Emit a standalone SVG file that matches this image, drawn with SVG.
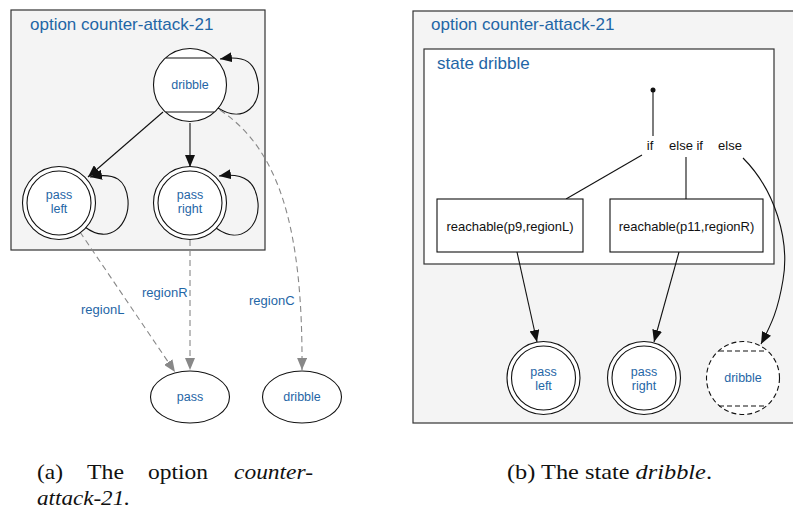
<svg xmlns="http://www.w3.org/2000/svg" width="793" height="513" viewBox="0 0 793 513">
<style>
.panel{fill:#f4f4f4;stroke:#333;stroke-width:1.2}
.inner{fill:#fff;stroke:#333;stroke-width:1.2}
.node{fill:#fff;stroke:#111;stroke-width:1.1}
.dnode{fill:#fff;stroke:#111;stroke-width:1.1;stroke-dasharray:5,3}
.chord{fill:none;stroke:#111;stroke-width:1.1}
.dchord{fill:none;stroke:#111;stroke-width:1.1;stroke-dasharray:5,3}
.title{font-family:"Liberation Sans",Arial,sans-serif;font-size:17px;fill:#1f66a6}
.nt{font-family:"Liberation Sans",Arial,sans-serif;font-size:12.5px;fill:#1f66a6;text-anchor:middle}
.lbl{font-family:"Liberation Sans",Arial,sans-serif;font-size:13px;fill:#1f66a6}
.bt{font-family:"Liberation Sans",Arial,sans-serif;font-size:13px;fill:#111;text-anchor:middle}
.cap{font-family:"Liberation Serif","Times New Roman",serif;font-size:22px;fill:#111}
.e{fill:none;stroke:#111;stroke-width:1.1}
.g{fill:none;stroke:#888;stroke-width:1.1;stroke-dasharray:6,4}
</style>
<defs>
<marker id="ah" markerUnits="userSpaceOnUse" markerWidth="12" markerHeight="10" refX="12" refY="5" orient="auto"><path d="M0,0 L12,5 L0,10 z" fill="#111"/></marker>
<marker id="gh" markerUnits="userSpaceOnUse" markerWidth="12" markerHeight="10" refX="12" refY="5" orient="auto"><path d="M0,0 L12,5 L0,10 z" fill="#888"/></marker>
</defs>

<!-- Left panel -->
<g id="panelA">
<rect class="panel" x="11" y="10" width="254" height="240"/>
<text class="title" x="30" y="30">option counter-attack-21</text>
</g>
<g id="connectorsA">
<path class="e" d="M218,108 C245,125 262,103 258,82 C255,63 247,55 220,59" marker-end="url(#ah)"/>
<path class="e" d="M85,227 C110,246 130,224 128,200 C126,180 116,172 90,177" marker-end="url(#ah)"/>
<path class="e" d="M216,228 C241,246 260,226 258,203 C256,183 246,172 219,176" marker-end="url(#ah)"/>
<path class="e" d="M163,112 L88,177" marker-end="url(#ah)"/>
<path class="e" d="M190,123 L190,167" marker-end="url(#ah)"/>
<path class="g" d="M80,232 L175,372" marker-end="url(#gh)"/>
<path class="g" d="M190,240 L190,370" marker-end="url(#gh)"/>
<path class="g" d="M220,110 C280,150 303,230 302,370" marker-end="url(#gh)"/>
<text class="lbl" x="81" y="314">regionL</text>
<text class="lbl" x="142" y="297">regionR</text>
<text class="lbl" x="249" y="305">regionC</text>
</g>
<g id="a_dribble">
<circle class="node" cx="190" cy="85" r="36.5"/>
<line class="chord" x1="166" y1="58" x2="214" y2="58"/>
<line class="chord" x1="166" y1="112" x2="214" y2="112"/>
<text class="nt" x="190" y="89">dribble</text>
</g>
<g id="a_passleft">
<circle class="node" cx="59" cy="203" r="36.5"/>
<circle class="node" cx="59" cy="203" r="32"/>
<text class="nt" x="59" y="199">pass</text>
<text class="nt" x="59" y="213">left</text>
</g>
<g id="a_passright">
<circle class="node" cx="190" cy="203" r="36.5"/>
<circle class="node" cx="190" cy="203" r="32"/>
<text class="nt" x="190" y="199">pass</text>
<text class="nt" x="190" y="213">right</text>
</g>
<g id="a_pass">
<ellipse class="node" cx="190" cy="397" rx="39.5" ry="26"/>
<text class="nt" x="190" y="401">pass</text>
</g>
<g id="a_dribble2">
<ellipse class="node" cx="302" cy="397" rx="39.5" ry="26"/>
<text class="nt" x="302" y="401">dribble</text>
</g>

<!-- Right panel -->
<g id="panelB">
<rect class="panel" x="413" y="11" width="390" height="412"/>
<text class="title" x="431" y="30">option counter-attack-21</text>
</g>
<g id="stateDribble">
<rect class="inner" x="424" y="49" width="350" height="215"/>
<text class="title" x="437" y="69">state dribble</text>
</g>
<g id="connectorsB">
<circle cx="653" cy="90" r="2.5" fill="#111"/>
<line class="e" x1="653" y1="90" x2="653" y2="136" stroke="#444"/>
<text class="bt" x="650" y="150">if</text>
<text class="bt" x="686" y="150">else if</text>
<text class="bt" x="730" y="150">else</text>
<line class="e" x1="642" y1="155" x2="566" y2="199"/>
<line class="e" x1="686" y1="157" x2="686" y2="199"/>
<path class="e" d="M743,158 C775,190 790,240 783,280 C778,310 772,323 761,344" marker-end="url(#ah)"/>
<line class="e" x1="517" y1="252" x2="537" y2="342" marker-end="url(#ah)"/>
<line class="e" x1="679" y1="252" x2="654" y2="342" marker-end="url(#ah)"/>
</g>
<g id="b_cond1">
<rect class="node" x="437" y="199" width="146" height="53"/>
<text class="bt" x="510" y="231">reachable(p9,regionL)</text>
</g>
<g id="b_cond2">
<rect class="node" x="610" y="199" width="153" height="53"/>
<text class="bt" x="686.5" y="231">reachable(p11,regionR)</text>
</g>
<g id="b_passleft">
<circle class="node" cx="543.5" cy="378" r="36.5"/>
<circle class="node" cx="543.5" cy="378" r="32"/>
<text class="nt" x="543.5" y="376">pass</text>
<text class="nt" x="543.5" y="390">left</text>
</g>
<g id="b_passright">
<circle class="node" cx="644" cy="378" r="36.5"/>
<circle class="node" cx="644" cy="378" r="32"/>
<text class="nt" x="644" y="376">pass</text>
<text class="nt" x="644" y="390">right</text>
</g>
<g id="b_dribble">
<circle class="dnode" cx="743" cy="378" r="36.5"/>
<line class="dchord" x1="719" y1="351" x2="767" y2="351"/>
<line class="dchord" x1="719" y1="406" x2="767" y2="406"/>
<text class="nt" x="743" y="382">dribble</text>
</g>

<!-- Captions -->
<g id="captions">
<text class="cap" x="37" y="479" textLength="26" lengthAdjust="spacingAndGlyphs">(a)</text>
<text class="cap" x="87" y="479" textLength="37" lengthAdjust="spacingAndGlyphs">The</text>
<text class="cap" x="148" y="479" textLength="60" lengthAdjust="spacingAndGlyphs">option</text>
<text class="cap" x="234" y="479" font-style="italic" textLength="79" lengthAdjust="spacingAndGlyphs">counter-</text>
<text class="cap" x="37" y="505" font-style="italic" textLength="93" lengthAdjust="spacingAndGlyphs">attack-21.</text>
<text class="cap" x="507" y="479" textLength="205" lengthAdjust="spacingAndGlyphs">(b) The state <tspan font-style="italic">dribble</tspan>.</text>
</g>
</svg>
